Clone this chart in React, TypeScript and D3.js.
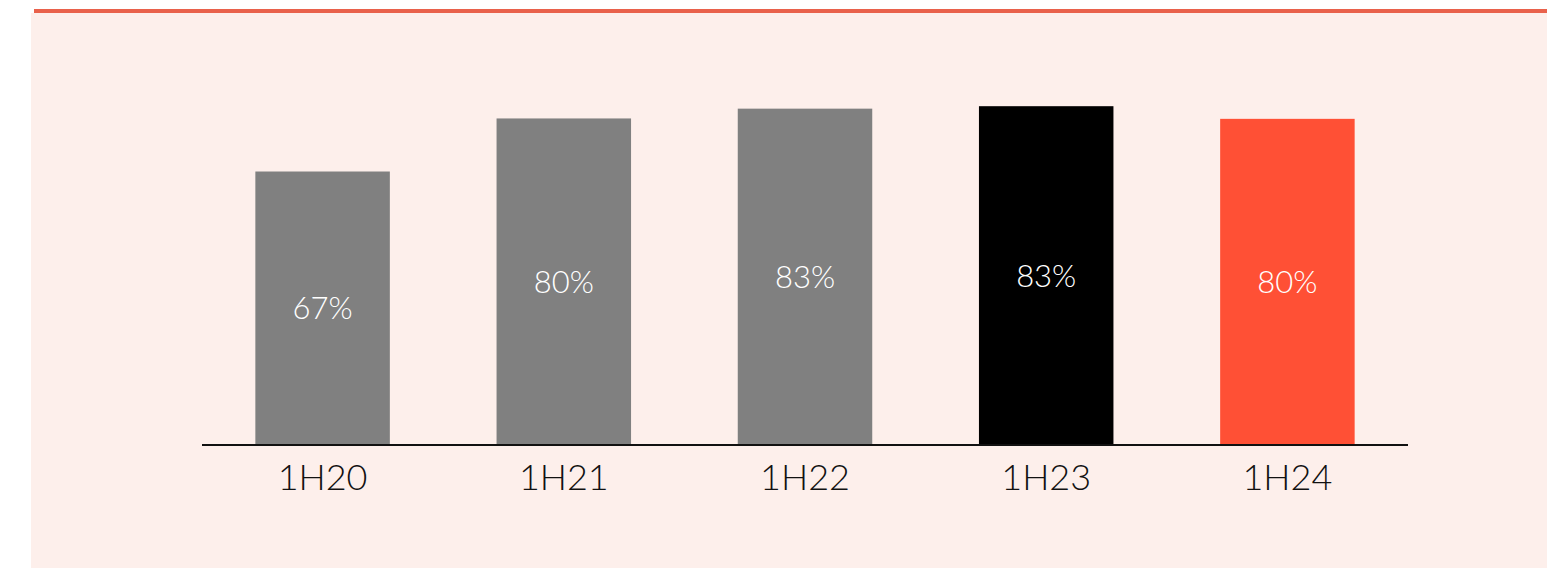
import React from "react";
import * as d3 from "d3";

const categories = ["1H20", "1H21", "1H22", "1H23", "1H24"];
const values = [67, 80, 82.4, 83, 79.9];
const valueLabels = ["67%", "80%", "83%", "83%", "80%"];
const barColors = ["#808080", "#808080", "#808080", "#000000", "#FF5035"];

const W = 1547;
const H = 568;

export default function App() {
  const x = d3
    .scaleBand<string>()
    .domain(categories)
    .range([202, 1408])
    .paddingInner(0.4424)
    .paddingOuter(0.2212);
  const y = d3.scaleLinear().domain([0, 100]).range([445, 36.8]);
  const font = "Lato, 'Open Sans', sans-serif";

  return (
    <svg
      width={W}
      height={H}
      style={{ position: "absolute", left: 0, top: 0, display: "block" }}
    >
      <rect x={0} y={0} width={W} height={H} fill="#ffffff" />
      <rect x={31} y={13} width={W - 31} height={H - 13} fill="#FDEFEB" />
      <rect x={34} y={9} width={W - 34} height={4} fill="#E9614B" />
      {categories.map((c, i) => {
        const bx = x(c)!;
        const top = y(values[i]);
        const cx = bx + x.bandwidth() / 2;
        return (
          <g key={c}>
            <rect
              x={bx}
              y={top}
              width={x.bandwidth()}
              height={y(0) - top}
              fill={barColors[i]}
            />
            <text
              x={cx}
              y={(top + y(0)) / 2}
              dy="0.36em"
              textAnchor="middle"
              fill="#ffffff"
              fontFamily={font}
              fontWeight={300}
              fontSize={31}
            >
              {valueLabels[i]}
            </text>
            <text
              x={cx}
              y={y(0) + 45}
              textAnchor="middle"
              fill="#111111"
              fontFamily={font}
              fontWeight={300}
              fontSize={36}
            >
              {c}
            </text>
          </g>
        );
      })}
      <line
        x1={202}
        x2={1408}
        y1={y(0)}
        y2={y(0)}
        stroke="#111111"
        strokeWidth={1.8}
      />
    </svg>
  );
}
